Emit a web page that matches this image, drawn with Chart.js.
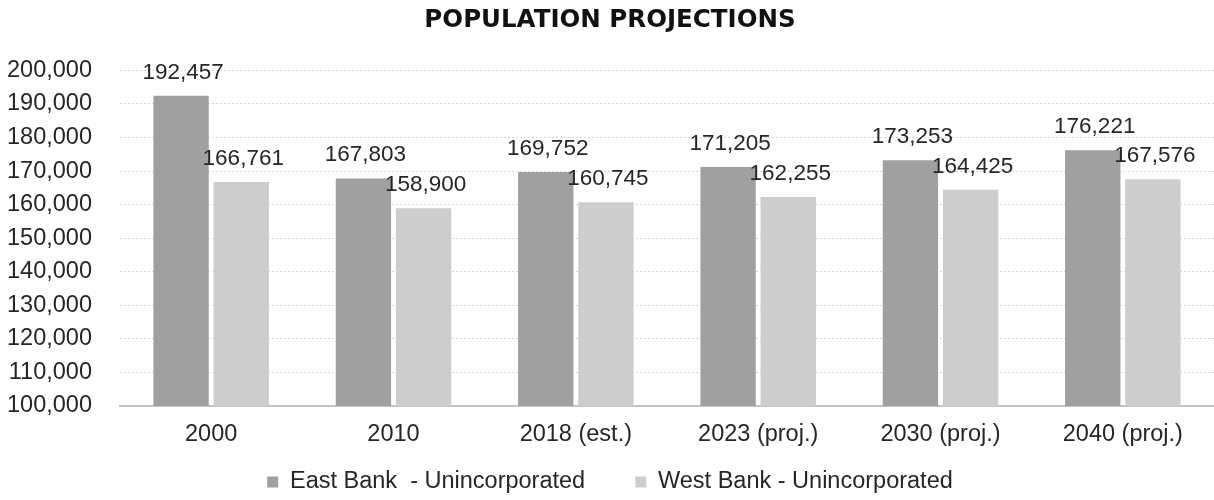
<!DOCTYPE html>
<html>
<head>
<meta charset="utf-8">
<script src="https://cdn.jsdelivr.net/npm/chart.js@4"></script>
<style>
  html, body { margin: 0; padding: 0; background: #fff; }
  #wrap { width: 1214px; height: 500px; }
</style>
</head>
<body>
<div id="wrap"><canvas id="popChart" width="1214" height="500"></canvas></div>
<script>
'use strict';

// DATA
let years = ['2000', '2010', '2018 (est.)', '2023 (proj.)', '2030 (proj.)', '2040 (proj.)'];
let eastBank = [192457, 167803, 169752, 171205, 173253, 176221];
let westBank = [166761, 158900, 160745, 162255, 164425, 167576];
let seriesNames = ['East Bank  - Unincorporated', 'West Bank - Unincorporated'];
let yMin = 100000;
let yMax = 200000;
let yStep = 10000;

let fontFamily = '"Liberation Sans", Arial, sans-serif';
let textSize = 23.5;
let valueSize = 22.5;

function fmt(v) {
  return v.toLocaleString('en-US');
}

// value labels above each bar
let barLabels = {
  id: 'barLabels',
  afterDatasetsDraw(chart) {
    let ctx = chart.ctx;
    ctx.save();
    ctx.font = valueSize + 'px ' + fontFamily;
    ctx.fillStyle = '#262626';
    ctx.textAlign = 'center';
    ctx.textBaseline = 'alphabetic';
    chart.data.datasets.forEach((ds, i) => {
      let meta = chart.getDatasetMeta(i);
      meta.data.forEach((bar, j) => {
        ctx.fillText(fmt(ds.data[j]), bar.x + 2, bar.y - 17);
      });
    });
    ctx.restore();
  }
};

let canvasElem = document.getElementById('popChart').getContext('2d');

new Chart(canvasElem, {
  type: 'bar',
  data: {
    labels: years,
    datasets: [
      {
        label: seriesNames[0],
        data: eastBank,
        backgroundColor: '#a0a0a0',
        borderWidth: 0
      },
      {
        label: seriesNames[1],
        data: westBank,
        backgroundColor: '#cdcdcd',
        borderWidth: 0
      }
    ]
  },
  options: {
    responsive: false,
    animation: false,
    layout: { padding: { left: 6, right: 0, top: 4, bottom: 0 } },
    categoryPercentage: 0.66,
    barPercentage: 0.92,
    plugins: {
      title: {
        display: true,
        text: 'POPULATION PROJECTIONS',
        color: '#111',
        font: { family: '"DejaVu Sans", sans-serif', size: 24.5, weight: 'bold' },
        padding: { top: 2, bottom: 35 }
      },
      legend: {
        position: 'bottom',
        maxHeight: 53.75,
        labels: {
          color: '#262626',
          font: { family: fontFamily, size: textSize },
          boxWidth: 11,
          boxHeight: 11,
          padding: 24,
          // wider gap after the first entry, like the original legend
          generateLabels: (chart) => {
            let items = Chart.defaults.plugins.legend.labels.generateLabels(chart);
            items[0].text = items[0].text + '    ';
            return items;
          }
        }
      },
      tooltip: { enabled: false }
    },
    scales: {
      x: {
        grid: { display: false, drawTicks: false },
        border: { color: '#c4c4c4', width: 2 },
        ticks: {
          color: '#262626',
          font: { family: fontFamily, size: textSize },
          padding: 14
        },
        afterFit: (scale) => { scale.height = 40.25; }
      },
      y: {
        min: yMin,
        max: yMax,
        border: { display: false, dash: [2, 2] },
        grid: { color: '#d6d6d6', drawTicks: false, lineWidth: 1 },
        ticks: {
          stepSize: yStep,
          color: '#262626',
          font: { family: fontFamily, size: textSize },
          padding: 28,
          callback: (v) => fmt(v)
        },
        afterFit: (scale) => { scale.width = 114; }
      }
    }
  },
  plugins: [barLabels]
});
</script>
</body>
</html>
